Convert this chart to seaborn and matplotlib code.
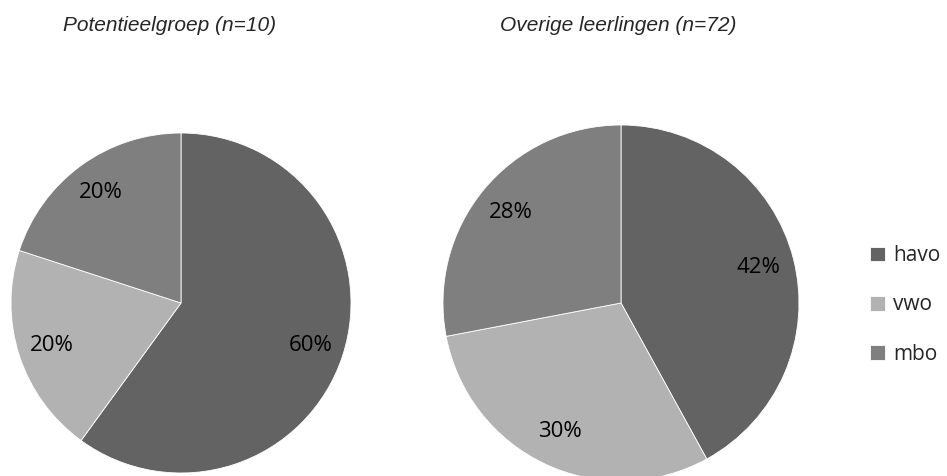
import matplotlib.pyplot as plt
import seaborn as sns

sns.set_theme(style='white')
plt.rcParams['font.family'] = ['Open Sans', 'DejaVu Sans']

# data
categories = ['havo', 'vwo', 'mbo']
potentieel = [60, 20, 20]
overige = [42, 30, 28]
titles = ['Potentieelgroep (n=10)', 'Overige leerlingen (n=72)']
colors = ['#636363', '#b2b2b2', '#7f7f7f']

W, H = 947, 476
fig = plt.figure(figsize=(W / 100, H / 100), dpi=100)


def pie_axes(cx, cy, r):
    # pixel centre/radius -> figure fraction axes
    return fig.add_axes([(cx - r) / W, (H - cy - r) / H, 2 * r / W, 2 * r / H])


ax1 = pie_axes(181, 303, 170)
ax2 = pie_axes(621, 303, 178)

for ax, vals in [(ax1, potentieel), (ax2, overige)]:
    wedges, _, autotexts = ax.pie(vals, colors=colors, startangle=90, counterclock=False,
                                  autopct='%1.0f%%', pctdistance=0.8,
                                  wedgeprops=dict(edgecolor='white', linewidth=0.6),
                                  textprops=dict(fontsize=16, color='black'))
    ax.set_xlim(-1, 1)
    ax.set_ylim(-1, 1)
    ax.set_aspect('equal')
    ax.axis('off')

fig.text(63 / W, 1 - 31 / H, titles[0], fontsize=15, style='italic',
         family='Liberation Sans', va='baseline', ha='left')
fig.text(500 / W, 1 - 31 / H, titles[1], fontsize=15, style='italic',
         family='Liberation Sans', va='baseline', ha='left')

fig.legend(wedges, categories, loc='center left', bbox_to_anchor=(860 / W, 1 - 305 / H),
           frameon=False, fontsize=15, handlelength=0.7, handleheight=0.7,
           handletextpad=0.4, labelspacing=1.35, borderpad=0)

fig.savefig('out.png', dpi=100)
